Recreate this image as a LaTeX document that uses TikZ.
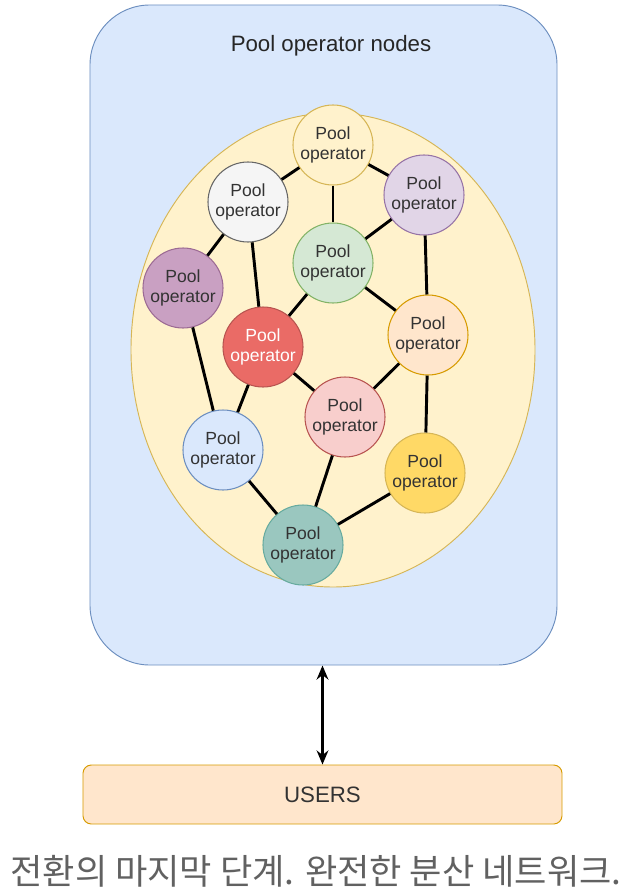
\documentclass[tikz,border=0pt]{standalone}
\usepackage{fontspec}
\setmainfont{Liberation Sans}
\newfontfamily\kofont{Noto Sans CJK KR}
\usepackage{xcolor}
\usetikzlibrary{arrows.meta,positioning,shapes.geometric,calc}

\definecolor{boxBlue}{HTML}{DAE8FC}
\definecolor{boxBlueLine}{HTML}{6C8EBF}
\definecolor{poolYellow}{HTML}{FFF2CC}
\definecolor{poolYellowLine}{HTML}{D6B656}
\definecolor{opWhite}{HTML}{F5F5F5}
\definecolor{opWhiteLine}{HTML}{666666}
\definecolor{opLilac}{HTML}{E1D5E7}
\definecolor{opLilacLine}{HTML}{9673A6}
\definecolor{opGreen}{HTML}{D5E8D4}
\definecolor{opGreenLine}{HTML}{82B366}
\definecolor{opPlum}{HTML}{C9A0C2}
\definecolor{opPlumLine}{HTML}{9C6B94}
\definecolor{opRed}{HTML}{EA6B66}
\definecolor{opRedLine}{HTML}{B85450}
\definecolor{opPeach}{HTML}{FFE6CC}
\definecolor{opPeachLine}{HTML}{D79B00}
\definecolor{opPink}{HTML}{F8CECC}
\definecolor{opGold}{HTML}{FFD966}
\definecolor{opTeal}{HTML}{9AC7BF}
\definecolor{opTealLine}{HTML}{67AB9F}
\definecolor{textDark}{HTML}{333333}

\begin{document}
\begin{tikzpicture}[
  x=0.03cm, y=-0.03cm,
  op/.style={circle, draw, line width=0.9pt, minimum size=2.4cm, inner sep=0pt,
             font=\fontsize{15}{17}\selectfont, align=center, text=textDark},
  link/.style={line width=2.5pt, black}
]
  \useasboundingbox (0,0) rectangle (640,894);

  % frame and cluster
  \node[draw=boxBlueLine, fill=boxBlue, line width=0.8pt, rounded corners=1.8cm,
        minimum width=14.01cm, minimum height=19.8cm] (poolbox) at (323.5,335) {};
  \node[font=\fontsize{19}{22}\selectfont, text=black!85] (title) at (331,46) {Pool operator nodes};
  \node[ellipse, draw=poolYellowLine, fill=poolYellow, line width=0.8pt,
        minimum width=12.12cm, minimum height=14.22cm] (cluster) at (333,350) {};

  % operators
  \node[op, fill=poolYellow, draw=poolYellowLine] (top)   at (333,145) {Pool\\operator};
  \node[op, fill=opWhite, draw=opWhiteLine]       (white) at (248,202) {Pool\\operator};
  \node[op, fill=opLilac, draw=opLilacLine]       (lilac) at (424,195) {Pool\\operator};
  \node[op, fill=opGreen, draw=opGreenLine]       (green) at (333,263) {Pool\\operator};
  \node[op, fill=opPlum, draw=opPlumLine]         (plum)  at (183,288) {Pool\\operator};
  \node[op, fill=opRed, draw=opRedLine, text=white] (red) at (263,347) {Pool\\operator};
  \node[op, fill=opPeach, draw=opPeachLine]       (peach) at (428,335) {Pool\\operator};
  \node[op, fill=opPink, draw=opRedLine]          (pink)  at (345,417) {Pool\\operator};
  \node[op, fill=boxBlue, draw=boxBlueLine]       (blue)  at (223,450) {Pool\\operator};
  \node[op, fill=opGold, draw=poolYellowLine]     (gold)  at (425,473) {Pool\\operator};
  \node[op, fill=opTeal, draw=opTealLine]         (teal)  at (303,545) {Pool\\operator};

  % links
  \draw[link] (top) -- (white);
  \draw[link] (top) -- (lilac);
  \draw[link] (top) -- (green);
  \draw[link] (white) -- (plum);
  \draw[link] (white) -- (red);
  \draw[link] (green) -- (lilac);
  \draw[link] (green) -- (red);
  \draw[link] (green) -- (peach);
  \draw[link] (lilac) -- (peach);
  \draw[link] (plum) -- (blue);
  \draw[link] (red) -- (blue);
  \draw[link] (red) -- (pink);
  \draw[link] (peach) -- (pink);
  \draw[link] (peach) -- (gold);
  \draw[link] (blue) -- (teal);
  \draw[link] (pink) -- (teal);
  \draw[link] (gold) -- (teal);

  % users
  \node[draw=opPeachLine, fill=opPeach, line width=0.8pt, rounded corners=0.25cm,
        minimum width=14.37cm, minimum height=1.77cm,
        font=\fontsize{19}{22}\selectfont, text=textDark] (users) at (322.5,794.5) {USERS};
  \draw[{Stealth[length=12pt,width=10pt]}-{Stealth[length=12pt,width=10pt]}, line width=2.2pt]
    (users.north |- poolbox.south) -- (users.north);

  \node[font=\kofont\fontsize{30}{34}\selectfont, text=black!62] (caption) at (316,871)
    {전환의 마지막 단계. 완전한 분산 네트워크.};
\end{tikzpicture}
\end{document}
